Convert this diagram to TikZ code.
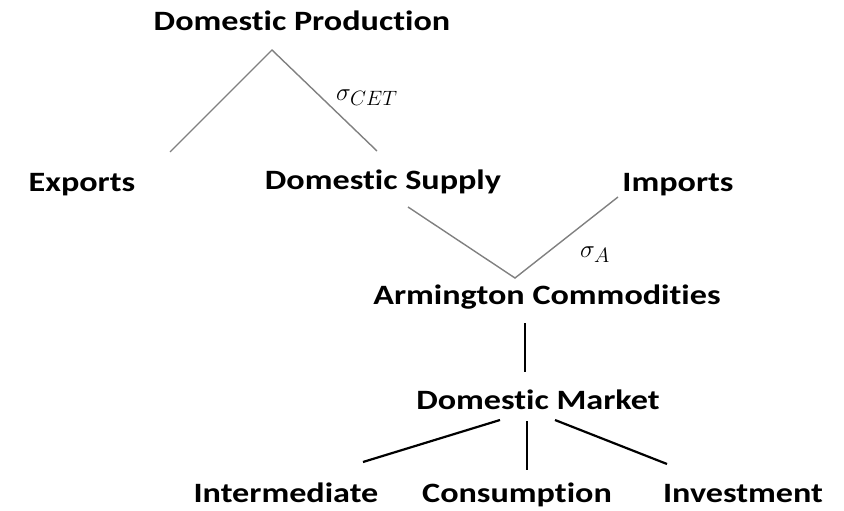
\documentclass[tikz,border=0pt]{standalone}
\usepackage{fontspec}
\setmainfont{Carlito}
\newfontfamily\lblfont{Carlito}[FakeStretch=1.22, Ligatures=NoCommon]

\begin{document}
\begin{tikzpicture}[
    x=1pt, y=-1pt,
    lbl/.style={inner sep=0pt, anchor=base, font=\fontsize{28}{32}\lblfont\bfseries},
    elas/.style={inner sep=0pt, anchor=base west, font=\fontsize{32}{36}\selectfont},
    nest/.style={draw=gray, line width=1.4pt},
    split/.style={draw=black, line width=2.2pt}
]
    \useasboundingbox (0,0) rectangle (844,511);

    % labels
    \node[lbl] (prod) at (302,31) {Domestic Production};
    \node[lbl] (exports) at (82,191) {Exports};
    \node[lbl] (supply) at (383,189) {Domestic Supply};
    \node[lbl] (imports) at (678,191) {Imports};
    \node[lbl] (arm) at (547,304) {Armington Commodities};
    \node[lbl] (market) at (538,409) {Domestic Market};
    \node[lbl] (inter) at (286,502) {Intermediate};
    \node[lbl] (cons) at (517,502) {Consumption};
    \node[lbl] (invest) at (743,502) {Investment};

    % elasticities
    \node[elas] (cet) at (336,100) {$\sigma_{CET}$};
    \node[elas] (arm sigma) at (580,257) {$\sigma_A$};

    % nest ends
    \coordinate (prod top) at (272,50);
    \coordinate (exp end) at (170,152);
    \coordinate (sup end) at (377,151);
    \coordinate (arm top) at (515,278);
    \coordinate (sup low) at (408,207);
    \coordinate (imp end) at (618,197);
    \coordinate (arm low) at (525,323);
    \coordinate (mkt top) at (525,372);
    \coordinate (mkt l) at (500,420);
    \coordinate (mkt c) at (527,421);
    \coordinate (mkt r) at (555,420);
    \coordinate (int end) at (363,462);
    \coordinate (con end) at (527,470);
    \coordinate (inv end) at (667,464);

    \draw[nest] (exp end) -- (prod top) -- (sup end);
    \draw[nest] (sup low) -- (arm top) -- (imp end);
    \draw[split, line width=1.8pt] (arm low) -- (mkt top);
    \draw[split] (mkt l) -- (int end);
    \draw[split] (mkt c) -- (con end);
    \draw[split] (mkt r) -- (inv end);
\end{tikzpicture}
\end{document}
